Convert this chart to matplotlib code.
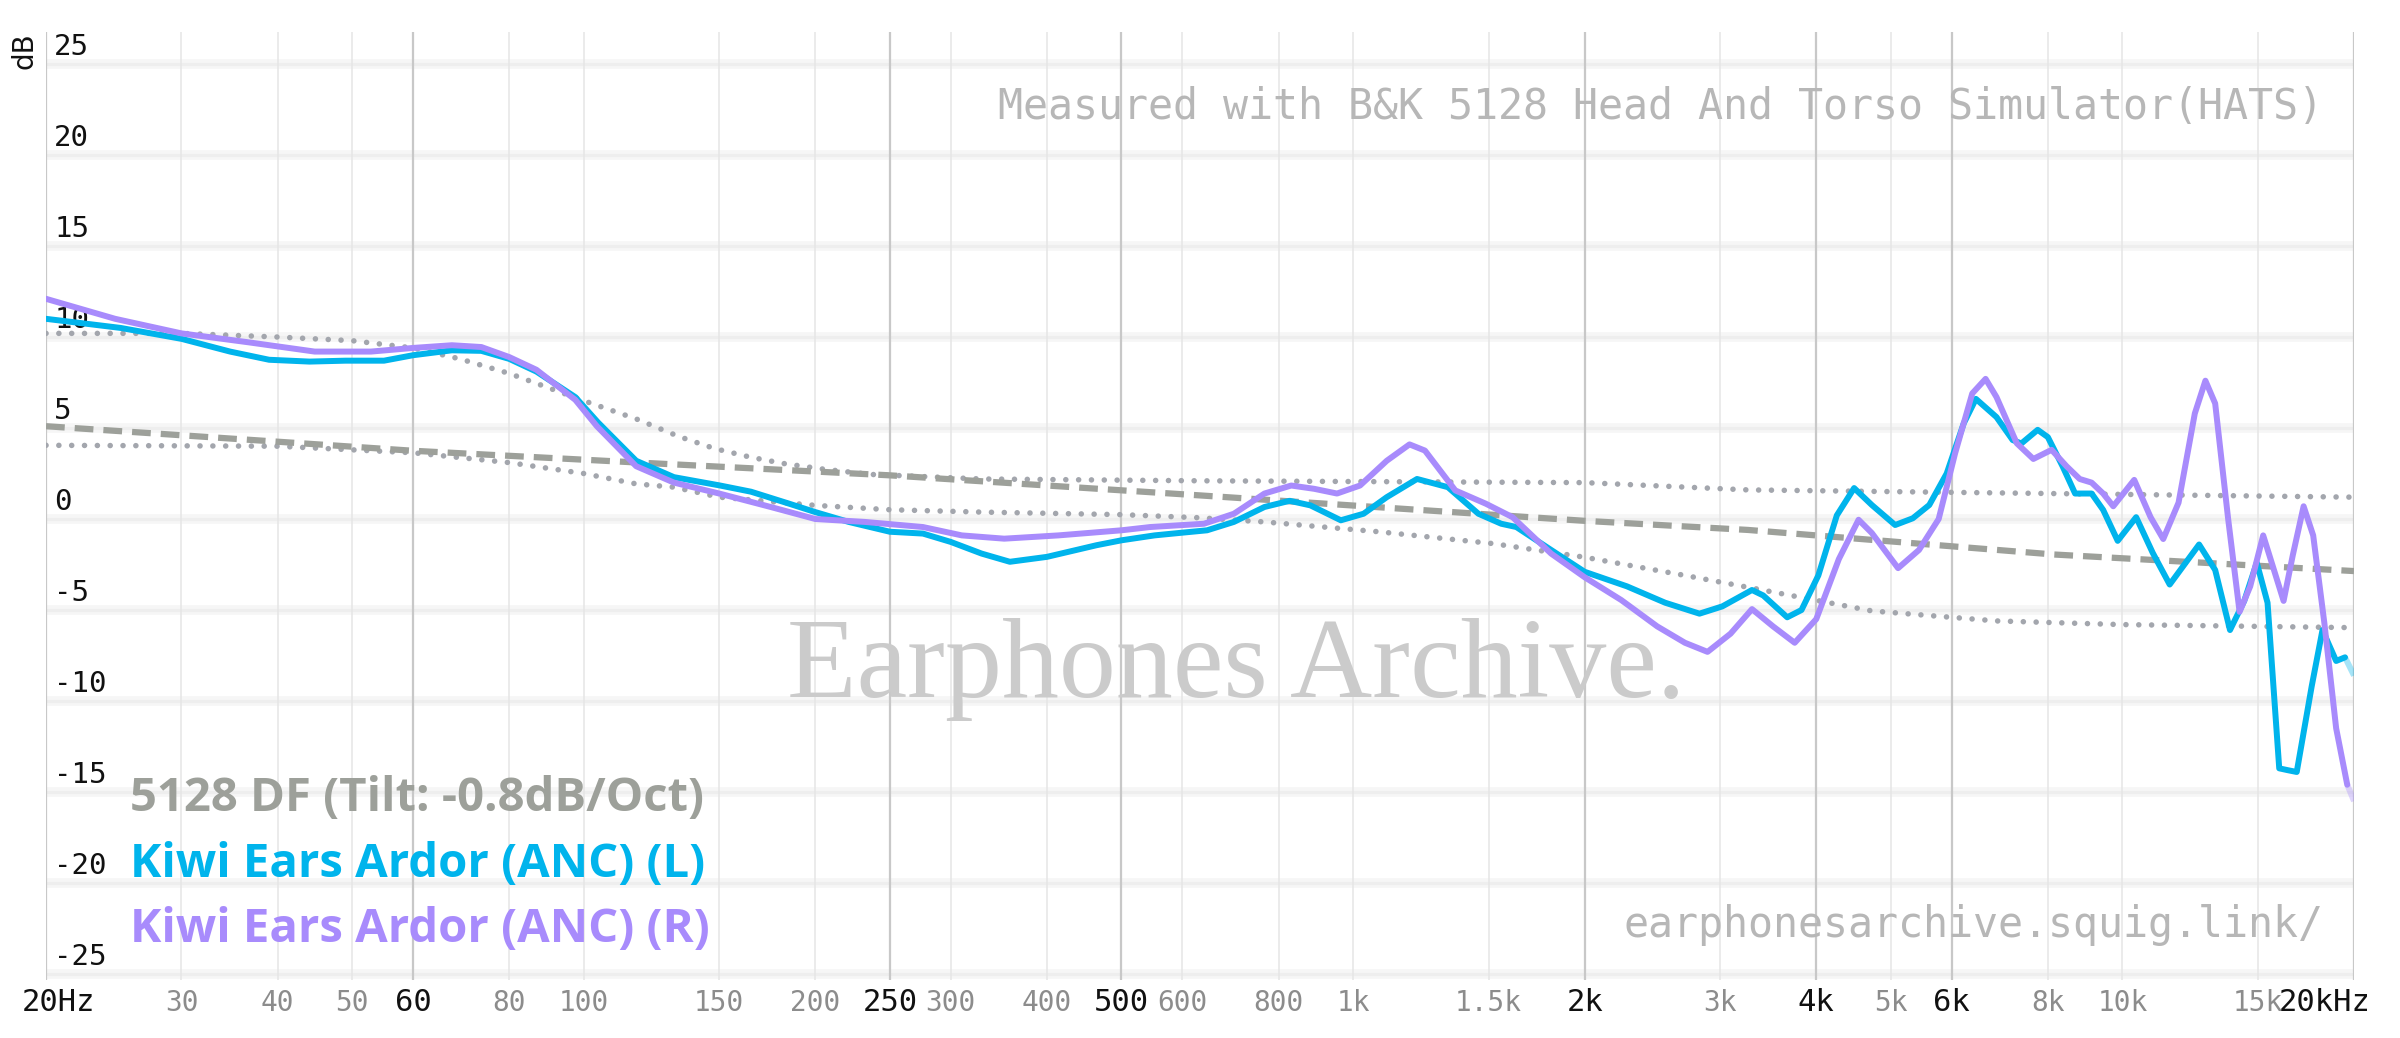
"""Frequency response plot: Kiwi Ears Ardor (ANC) vs 5128 DF target."""

import matplotlib

matplotlib.use("Agg")
import matplotlib.pyplot as plt
import matplotlib.transforms as mtransforms

# --- data ----------------------------------------------------------------
FREQ_L = [20, 25, 30, 34.7, 39, 44, 49, 55, 60, 67.4, 73.6, 80, 86.8, 97.5,
          104.4, 117, 131, 150, 165, 185, 200, 221, 250, 276, 300, 329, 358,
          400, 464, 500, 552, 600, 646, 700, 767, 827, 880, 964, 1032, 1106,
          1211, 1328, 1455, 1558, 1630, 1809, 2000, 2270, 2545, 2820, 3020,
          3300, 3413, 3667, 3827, 4025, 4254, 4480, 4724, 5065, 5340, 5610,
          5910, 6220, 6450, 6860, 7200, 7390, 7760, 8000, 8360, 8680, 9120,
          9440, 9860, 10420, 10950, 11520, 12580, 13200, 13800, 14400, 14950,
          15440, 15990, 16400, 16850, 17620, 18200, 18960, 19470, 20000]
SPL_L = [11.0, 10.5, 9.9, 9.2, 8.75, 8.65, 8.7, 8.7, 9.0, 9.27, 9.24, 8.8, 8.1,
         6.7, 5.3, 3.2, 2.3, 1.85, 1.5, 0.84, 0.38, -0.16, -0.7, -0.8, -1.26,
         -1.9, -2.35, -2.08, -1.44, -1.17, -0.9, -0.75, -0.62, -0.16, 0.66, 1.0,
         0.75, -0.07, 0.29, 1.2, 2.2, 1.75, 0.29, -0.26, -0.44, -1.7, -2.9,
         -3.7, -4.6, -5.2, -4.8, -3.9, -4.2, -5.4, -5.0, -3.1, 0.2, 1.7, 0.77,
         -0.33, 0.04, 0.77, 2.5, 5.26, 6.6, 5.6, 4.34, 4.15, 4.9, 4.5, 2.9, 1.4,
         1.4, 0.5, -1.2, 0.1, -1.86, -3.6, -1.4, -2.8, -6.1, -4.5, -2.4, -4.6,
         -13.7, -13.8, -13.9, -9.2, -6.1, -7.8, -7.6, -8.6]

FREQ_R = [20, 24.6, 30, 36.8, 44.7, 52.9, 60, 67.4, 73.6, 80, 86.8, 97.5, 104,
          117, 131, 150, 175, 200, 232, 276, 310, 352, 414, 500, 545, 640, 700,
          767, 831, 890, 953, 1021, 1106, 1184, 1240, 1358, 1488, 1612, 1809,
          2000, 2231, 2485, 2700, 2889, 3095, 3300, 3515, 3750, 4000, 4280,
          4540, 4724, 5110, 5440, 5770, 6060, 6380, 6640, 6860, 7290, 7660,
          8090, 8460, 8800, 9120, 9440, 9730, 10360, 10880, 11300, 11830,
          12420, 12820, 13200, 13720, 14200, 14660, 15240, 15740, 16200,
          16650, 17200, 17700, 18300, 18960, 19600, 20000]
SPL_R = [12.1, 11.0, 10.2, 9.7, 9.2, 9.2, 9.4, 9.55, 9.45, 8.9, 8.2, 6.55,
         5.1, 2.9, 2.0, 1.4, 0.66, 0.0, -0.16, -0.44, -0.9, -1.08, -0.9, -0.62,
         -0.44, -0.26, 0.29, 1.4, 1.84, 1.66, 1.4, 1.84, 3.2, 4.1, 3.76, 1.57,
         0.84, 0.1, -1.9, -3.2, -4.45, -5.9, -6.8, -7.3, -6.3, -4.95, -5.9,
         -6.8, -5.5, -2.2, -0.04, -0.77, -2.7, -1.7, 0.0, 3.6, 6.9, 7.7, 6.7,
         4.16, 3.3, 3.8, 2.9, 2.2, 2.0, 1.4, 0.7, 2.15, 0.1, -1.1, 0.9, 5.8,
         7.6, 6.35, 0.04, -5.1, -3.7, -0.9, -2.8, -4.5, -2.0, 0.7, -0.9, -5.7,
         -11.5, -14.6, -15.5]

FREQ_TARGET = [20, 60, 118, 250, 631, 2000, 3260, 8150, 20000]
SPL_TARGET = [5.1, 3.75, 3.1, 2.4, 1.3, -0.1, -0.6, -1.95, -2.86]

FREQ_UPPER = [20, 30, 40, 50, 60, 69, 80, 100, 117, 125, 133, 148, 165, 183,
              205, 236, 329, 631, 2000, 3260, 20000]
SPL_UPPER = [10.2, 10.2, 10.0, 9.8, 9.4, 8.8, 8.0, 6.5, 5.5, 5.0, 4.53, 3.87,
             3.39, 3.03, 2.74, 2.45, 2.2, 2.1, 2.0, 1.6, 1.2]

FREQ_LOWER = [20, 40, 60, 80, 100, 117, 131, 150, 200, 250, 329, 500, 631, 767,
              1080, 1520, 2000, 2700, 3260, 4724, 6860, 9950, 20000]
SPL_LOWER = [4.05, 4.0, 3.64, 3.1, 2.5, 1.93, 1.75, 1.2, 0.75, 0.51, 0.38, 0.24,
             0.07, -0.16, -0.7, -1.35, -2.1, -3.1, -3.75, -5.05, -5.6, -5.8, -5.97]

X_TICKS = [20, 30, 40, 50, 60, 80, 100, 150, 200, 250, 300, 400, 500, 600, 800,
           1000, 1500, 2000, 3000, 4000, 5000, 6000, 8000, 10000, 15000, 20000]
X_LABELS = ["20Hz", "30", "40", "50", "60", "80", "100", "150", "200", "250",
            "300", "400", "500", "600", "800", "1k", "1.5k", "2k", "3k", "4k",
            "5k", "6k", "8k", "10k", "15k", "20kHz"]
X_MAJOR = [20, 60, 250, 500, 2000, 4000, 6000, 20000]
Y_TICKS = [25, 20, 15, 10, 5, 0, -5, -10, -15, -20, -25]

LEGEND = ["5128 DF (Tilt: -0.8dB/Oct)", "Kiwi Ears Ardor (ANC) (L)",
          "Kiwi Ears Ardor (ANC) (R)"]

COLOR_TARGET = "#9da09a"
COLOR_DOTS = "#a3a6ad"
COLOR_L = "#00b4ec"
COLOR_R = "#a88bfc"
MONO = "DejaVu Sans Mono"
CURVE_LW = 4.3


def draw_curve(ax, freqs, spl, color):
    """Draw a response curve, fading the last segment like the original."""
    ax.plot(freqs[:-1], spl[:-1], color=color, lw=CURVE_LW,
            solid_capstyle="round", solid_joinstyle="round", zorder=5)
    ax.plot(freqs[-2:], spl[-2:], color=color, lw=CURVE_LW, alpha=0.35,
            solid_capstyle="butt", zorder=5)


def main() -> None:
    fig = plt.figure(figsize=(24, 10.38), dpi=100)
    ax = fig.add_axes([46 / 2400, 1 - 980 / 1038, 2308 / 2400, 948 / 1038])
    ax.set_xscale("log")
    ax.set_xlim(20, 20000)
    ax.set_ylim(-25.33, 26.76)
    ax.axis("off")

    # grid: soft horizontal bands, thin vertical lines
    for y in Y_TICKS:
        ax.axhline(y, color="#f6f6f6", lw=7, zorder=0)
        ax.axhline(y, color="#eeeeee", lw=2.2, zorder=0)
    for f in X_TICKS:
        major = f in X_MAJOR
        ax.axvline(f, color="#c8c8c8" if major else "#e6e6e6",
                   lw=1.6 if major else 1.1, zorder=1)

    # target + bounds
    dots = (0, (0.01, 2.3))
    ax.plot(FREQ_UPPER, SPL_UPPER, color=COLOR_DOTS, lw=4, linestyle=dots,
            dash_capstyle="round", zorder=3)
    ax.plot(FREQ_LOWER, SPL_LOWER, color=COLOR_DOTS, lw=4, linestyle=dots,
            dash_capstyle="round", zorder=3)
    ax.plot(FREQ_TARGET, SPL_TARGET, color=COLOR_TARGET, lw=4.5,
            linestyle=(0, (3.0, 1.6)), zorder=3)

    draw_curve(ax, FREQ_L, SPL_L, COLOR_L)
    draw_curve(ax, FREQ_R, SPL_R, COLOR_R)

    # y labels inside the plot
    ytrans = mtransforms.blended_transform_factory(ax.transAxes, ax.transData)
    for y in Y_TICKS:
        ax.text(0.0035, y + 0.5, str(y), transform=ytrans, ha="left",
                va="baseline", fontsize=21, family=MONO, color="#111111",
                zorder=4)

    # x labels under the plot
    xtrans = mtransforms.blended_transform_factory(ax.transData, ax.transAxes)
    for f, lab in zip(X_TICKS, X_LABELS):
        major = f in X_MAJOR
        trans = xtrans
        if lab == "20Hz":
            trans = xtrans + mtransforms.ScaledTranslation(13 / 100, 0, fig.dpi_scale_trans)
        elif lab == "20kHz":
            trans = xtrans + mtransforms.ScaledTranslation(-29 / 100, 0, fig.dpi_scale_trans)
        ax.text(f, -0.033, lab, transform=trans, ha="center", va="baseline",
                fontsize=22 if major else 20, family=MONO,
                color="#111111" if major else "#8c8c8c", clip_on=False)

    fig.text(25 / 2400, 1 - 32 / 1038, "dB", rotation=90, ha="center",
             va="top", fontsize=20, color="#111111")

    # watermarks
    ax.text(787 / 2400, 1 - 697 / 1038, "Earphones Archive.",
            transform=fig.transFigure, family="Liberation Serif", fontsize=82,
            color="#cbcbcb", ha="left", va="baseline", zorder=2)
    fig.text(2323 / 2400, 1 - 119 / 1038,
             "Measured with B&K 5128 Head And Torso Simulator(HATS)",
             ha="right", va="baseline", fontsize=30, family=MONO,
             color="#b7b7b7")
    fig.text(2324 / 2400, 1 - 937 / 1038, "earphonesarchive.squig.link/",
             ha="right", va="baseline", fontsize=30, family=MONO,
             color="#b7b7b7")

    # legend
    for label, color, base in zip(LEGEND, [COLOR_TARGET, COLOR_L, COLOR_R],
                                  [811, 877, 942]):
        fig.text(130 / 2400, 1 - base / 1038, label, ha="left", va="baseline",
                 fontsize=34, family="Open Sans", weight="bold", color=color)

    fig.savefig("out.png", dpi=100, facecolor="white")
    plt.close(fig)


if __name__ == "__main__":
    main()
